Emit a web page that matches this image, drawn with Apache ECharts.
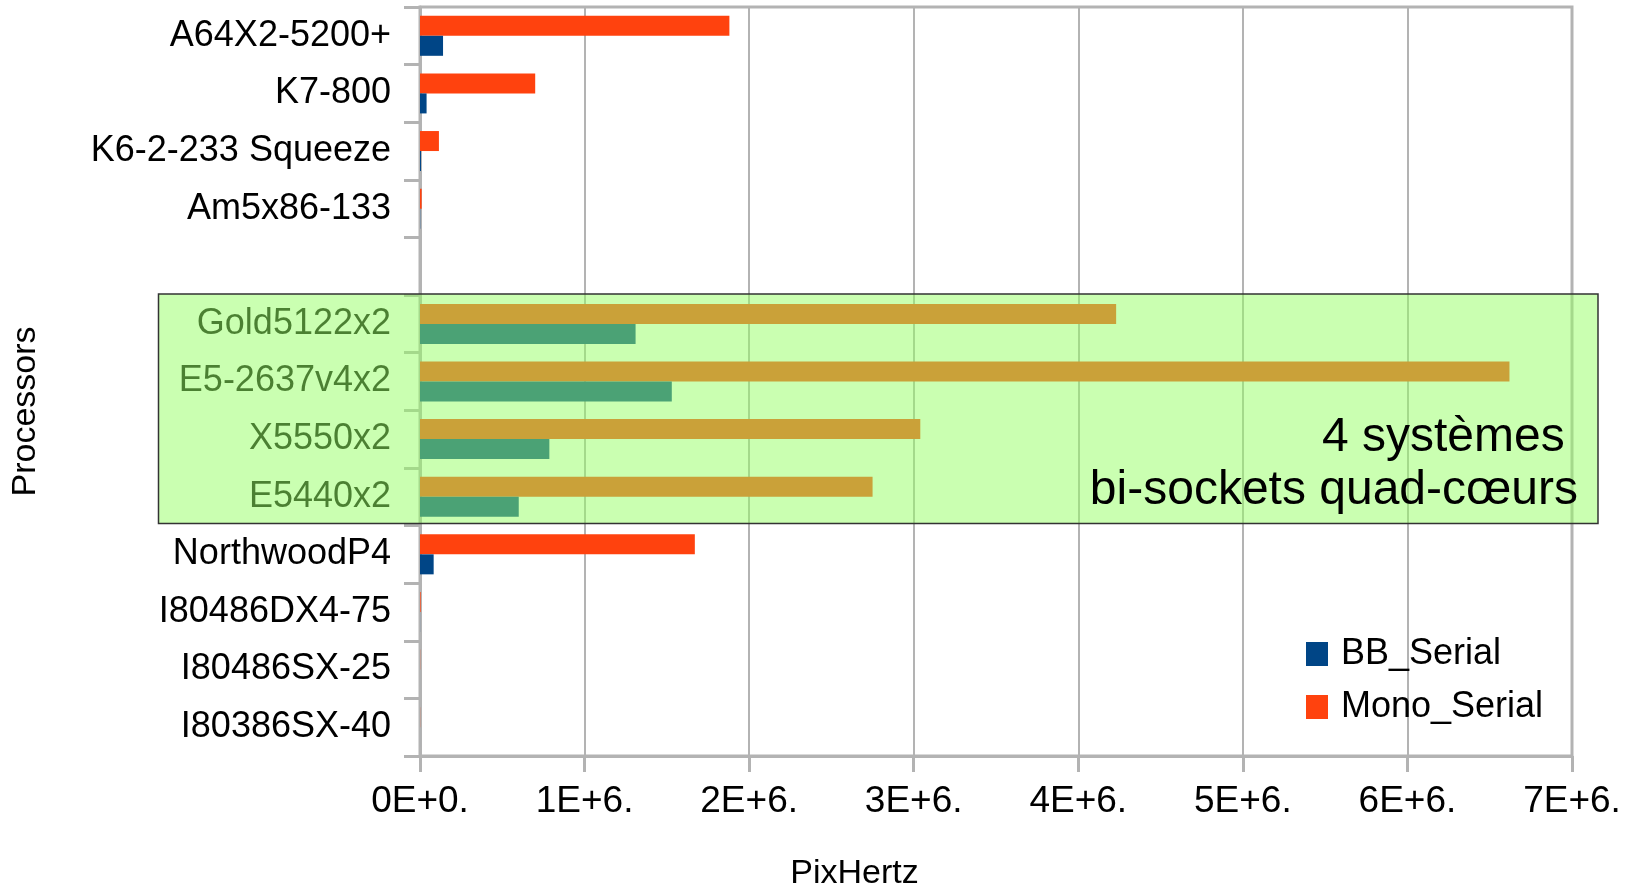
<!DOCTYPE html>
<html>
<head>
<meta charset="utf-8">
<script src="https://cdn.jsdelivr.net/npm/echarts@6/dist/echarts.min.js"></script>
<style>
html,body{margin:0;padding:0;background:#fff;}
#chart{width:1630px;height:886px;}
</style>
</head>
<body>
<div id="chart"></div>
<script>
// ---- data ----
const categories = ['A64X2-5200+', 'K7-800', 'K6-2-233 Squeeze', 'Am5x86-133', '',
  'Gold5122x2', 'E5-2637v4x2', 'X5550x2', 'E5440x2',
  'NorthwoodP4', 'I80486DX4-75', 'I80486SX-25', 'I80386SX-40'];
const monoSerial = [1880000, 700000, 115000, 10000, null, 4230000, 6620000, 3040000, 2750000, 1670000, 4000, 1000, 800];
const bbSerial   = [140000, 40000, 6000, 1500, null, 1310000, 1530000, 786000, 600000, 83000, 500, 100, 80];
const xTickLabels = ['0E+0.', '1E+6.', '2E+6.', '3E+6.', '4E+6.', '5E+6.', '6E+6.', '7E+6.'];
const seriesNames = ['BB_Serial', 'Mono_Serial'];
const annotationLines = ['4 systèmes ', 'bi-sockets quad-cœurs'];

const FONT = '"Liberation Sans", Arial, sans-serif';
const GRID_COLOR = '#b3b3b3';

const chart = echarts.init(document.getElementById('chart'), null, {renderer: 'canvas'});
const option = {
  backgroundColor: '#ffffff',
  animation: false,
  textStyle: {fontFamily: FONT},
  grid: {
    left: 420, top: 7, width: 1152, height: 749,
    containLabel: false,
    outerBoundsMode: 'none',
    show: true, borderColor: GRID_COLOR, borderWidth: 3, backgroundColor: 'transparent'
  },
  legend: {
    orient: 'vertical',
    left: 1306, top: 636,
    padding: 0,
    itemWidth: 22, itemHeight: 24, itemGap: 17,
    data: seriesNames,
    icon: 'rect',
    textStyle: {fontSize: 36, lineHeight: 24, color: '#000', fontFamily: FONT, padding: [0, 0, 0, 8]}
  },
  xAxis: {
    type: 'value',
    min: 0, max: 7000000, interval: 1000000,
    name: 'PixHertz',
    nameLocation: 'middle',
    nameGap: 101,
    nameTextStyle: {fontSize: 34, color: '#000', fontFamily: FONT, padding: [0, 283, 0, 0]},
    axisLine: {show: true, lineStyle: {color: GRID_COLOR, width: 3}},
    axisTick: {show: true, length: 16, lineStyle: {color: GRID_COLOR, width: 3}},
    axisLabel: {
      fontSize: 37, color: '#000', margin: 27, fontFamily: FONT,
      formatter: function (v) { return xTickLabels[Math.round(v / 1000000)]; }
    },
    splitLine: {show: true, lineStyle: {color: GRID_COLOR, width: 2}}
  },
  yAxis: {
    type: 'category',
    inverse: true,
    data: categories,
    name: 'Processors',
    nameLocation: 'middle',
    nameGap: 377,
    nameRotate: 90,
    nameTextStyle: {fontSize: 34, color: '#000', fontFamily: FONT, padding: [0, 60, 0, 0]},
    axisLine: {show: true, lineStyle: {color: GRID_COLOR, width: 3}},
    axisTick: {show: true, length: 16, alignWithLabel: false, lineStyle: {color: GRID_COLOR, width: 3}},
    axisLabel: {fontSize: 36, color: '#000', margin: 29, interval: 0, fontFamily: FONT},
    splitLine: {show: false}
  },
  series: [
    {
      name: 'Mono_Serial', type: 'bar', data: monoSerial,
      barWidth: 20, barGap: '0%',
      itemStyle: {color: '#ff420e'}
    },
    {
      name: 'BB_Serial', type: 'bar', data: bbSerial,
      barWidth: 20, barGap: '0%',
      itemStyle: {color: '#004586'}
    }
  ],
  graphic: [
    {
      type: 'rect', z: 100,
      shape: {x: 158.5, y: 294, width: 1439.5, height: 229.5},
      style: {fill: 'rgba(150,255,100,0.5)', stroke: '#333333', lineWidth: 1.5}
    },
    {
      type: 'text', z: 101,
      style: {x: 1578, y: 438, text: annotationLines[0], fontSize: 48, fontFamily: FONT,
        fill: '#000', align: 'right', verticalAlign: 'middle'}
    },
    {
      type: 'text', z: 101,
      style: {x: 1578, y: 491, text: annotationLines[1], fontSize: 48, fontFamily: FONT,
        fill: '#000', align: 'right', verticalAlign: 'middle'}
    }
  ]
};
chart.setOption(option);
</script>
</body>
</html>
